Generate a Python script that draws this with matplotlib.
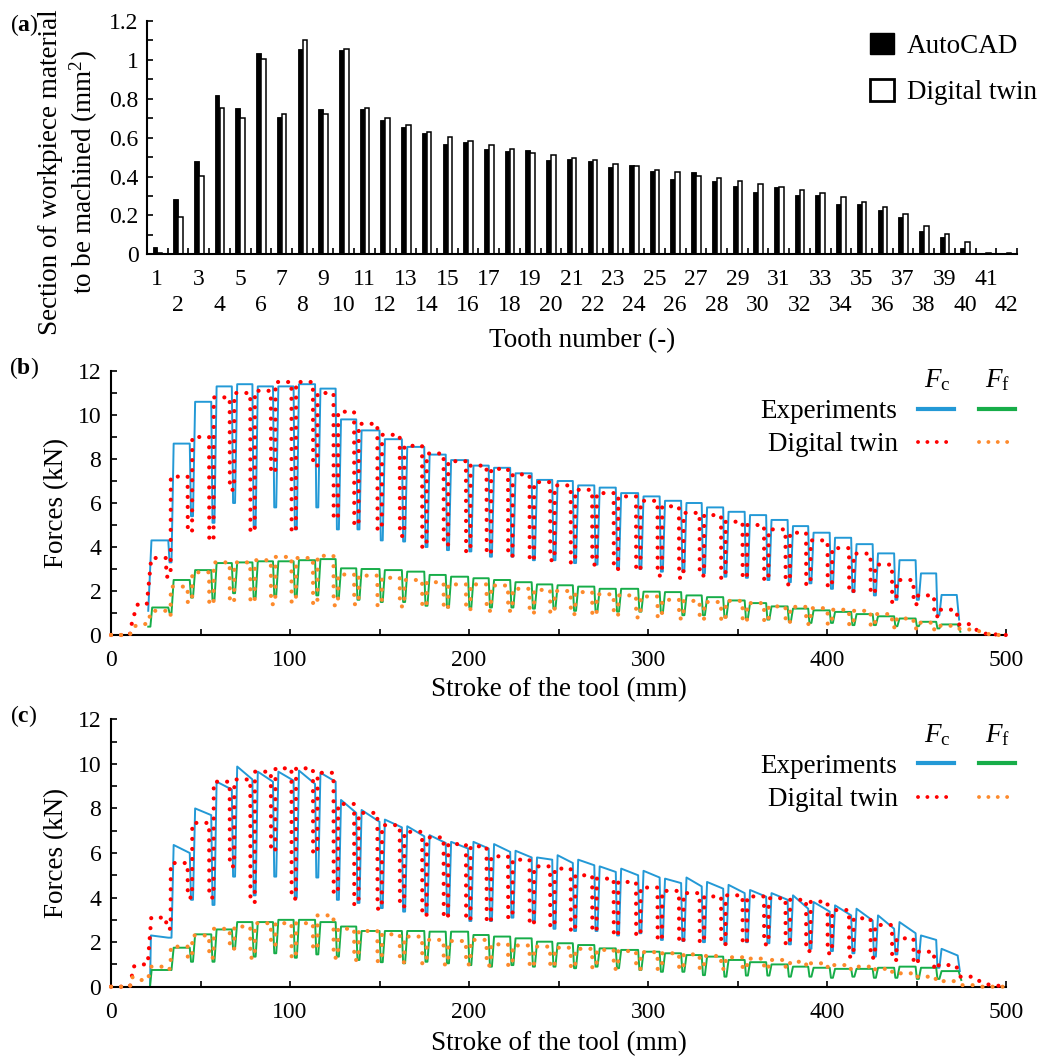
"""Tooth section (a) and broaching forces (b), (c): experiments vs digital twin"""

import numpy as np
import matplotlib
matplotlib.use("Agg")
import matplotlib.pyplot as plt
from matplotlib.lines import Line2D
from matplotlib.patches import Patch
from matplotlib.ticker import MultipleLocator

plt.rcParams["font.family"] = ["Liberation Serif", "DejaVu Serif"]
plt.rcParams["font.size"] = 19.5
plt.rcParams["xtick.labelsize"] = 17
plt.rcParams["ytick.labelsize"] = 17
plt.rcParams["mathtext.fontset"] = "custom"
plt.rcParams["mathtext.rm"] = "Liberation Serif"
plt.rcParams["mathtext.it"] = "Liberation Serif:italic"
plt.rcParams["mathtext.bf"] = "Liberation Serif:bold"

# ═══════════════════════════════════════════
#  data
# ═══════════════════════════════════════════

# (a) section per tooth, mm^2
teeth = np.arange(1, 43)
area_autocad = [0.04, 0.285, 0.478, 0.818, 0.751, 1.034, 0.705, 1.056, 0.749, 1.053,
                0.747, 0.691, 0.653, 0.624, 0.569, 0.579, 0.540, 0.533, 0.537, 0.485,
                0.490, 0.480, 0.449, 0.458, 0.429, 0.387, 0.423, 0.377, 0.350, 0.322,
                0.348, 0.305, 0.305, 0.257, 0.261, 0.228, 0.192, 0.122, 0.089, 0.031,
                0.005, 0.008]
area_twin = [0.005, 0.19, 0.403, 0.754, 0.703, 1.003, 0.723, 1.104, 0.723, 1.054,
             0.751, 0.699, 0.663, 0.631, 0.602, 0.583, 0.561, 0.543, 0.523, 0.513,
             0.497, 0.483, 0.466, 0.454, 0.435, 0.425, 0.405, 0.393, 0.377, 0.362,
             0.348, 0.329, 0.315, 0.293, 0.271, 0.243, 0.207, 0.147, 0.103, 0.062,
             0.005, 0.005]

# (b), (c) stroke position of the dip between two consecutive teeth, mm
dip_x = [33, 45, 57, 68.5, 80, 91.5, 103, 115, 126.5, 138, 151, 163.5, 176, 188,
         200.5, 212, 224, 236, 247.5, 259, 271, 283, 295.5, 307.5, 319.5, 331, 343,
         355, 367, 379, 390.5, 402.5, 414.5, 426.5, 438.5, 450.5, 462]

# (b) plateau level per tooth (38) and dip level between teeth (37), kN
b_fc_exp_top = [4.3, 8.7, 10.6, 11.3, 11.4, 11.3, 11.3, 11.4, 11.2, 9.8,
                9.3, 8.9, 8.55, 8.2, 7.95, 7.7, 7.6, 7.35, 7.05, 7.0,
                6.8, 6.7, 6.45, 6.3, 6.1, 6.0, 5.8, 5.6, 5.45, 5.23,
                4.95, 4.65, 4.42, 4.13, 3.71, 3.4, 2.8, 1.82]
b_fc_exp_dip = [3.3, 5.4, 5.1, 6.0, 4.9, 5.8, 4.8, 5.8, 4.8, 4.8,
                4.3, 4.25, 4.0, 3.86, 3.8, 3.56, 3.56, 3.4, 3.4, 3.27,
                3.2, 3.04, 3.0, 2.88, 2.88, 2.8, 2.65, 2.6, 2.5, 2.4,
                2.35, 2.1, 1.95, 1.8, 1.6, 1.6, 0.9]
b_ff_exp_top = [1.25, 2.5, 2.95, 3.27, 3.3, 3.35, 3.35, 3.4, 3.45, 3.03,
                3.0, 2.95, 2.88, 2.73, 2.65, 2.58, 2.5, 2.4, 2.3, 2.26,
                2.2, 2.1, 2.1, 1.97, 1.95, 1.8, 1.72, 1.57, 1.45, 1.3,
                1.2, 1.12, 1.05, 0.95, 0.85, 0.75, 0.6, 0.48]
b_ff_exp_dip = [1.0, 1.7, 1.6, 1.9, 1.7, 1.8, 1.8, 1.8, 1.7, 1.6,
                1.5, 1.5, 1.33, 1.25, 1.25, 1.25, 1.25, 1.2, 1.2, 1.1,
                1.1, 1.06, 1.06, 1.0, 0.9, 0.9, 0.8, 0.75, 0.7, 0.6,
                0.55, 0.55, 0.45, 0.45, 0.4, 0.4, 0.3]
b_fc_dt_top = [3.5, 7.2, 9.0, 10.8, 11.0, 11.1, 11.5, 11.5, 11.0, 10.15,
               9.6, 9.1, 8.6, 8.25, 7.9, 7.7, 7.55, 7.3, 6.95, 6.8,
               6.6, 6.45, 6.3, 6.1, 5.85, 5.55, 5.45, 5.15, 5.0, 4.8,
               4.65, 4.3, 3.95, 3.7, 3.2, 2.5, 1.8, 1.15]
b_fc_dt_dip = [2.65, 4.7, 4.3, 6.6, 4.7, 7.4, 4.7, 7.7, 5.3, 5.0,
               4.8, 4.5, 4.0, 4.1, 3.8, 3.7, 3.6, 3.4, 3.4, 3.3,
               3.2, 3.0, 2.95, 2.7, 2.6, 2.7, 2.6, 2.6, 2.5, 2.3,
               2.3, 2.2, 1.95, 1.9, 1.5, 1.4, 0.85]
b_ff_dt_top = [1.1, 2.2, 2.85, 3.3, 3.3, 3.4, 3.55, 3.5, 3.6, 2.75,
               2.7, 2.6, 2.5, 2.4, 2.3, 2.3, 2.25, 2.1, 2.05, 2.0,
               1.95, 1.85, 1.8, 1.75, 1.6, 1.55, 1.5, 1.55, 1.45, 1.3,
               1.28, 1.22, 1.15, 1.1, 0.95, 0.75, 0.56, 0.42]
b_ff_dt_dip = [0.9, 1.5, 1.4, 1.5, 1.5, 1.4, 1.5, 1.4, 1.35, 1.4,
               1.35, 1.3, 1.3, 1.2, 1.15, 1.1, 1.1, 1.0, 1.0, 0.95,
               0.9, 0.9, 0.8, 0.8, 0.75, 0.7, 0.65, 0.6, 0.6, 0.55,
               0.5, 0.5, 0.45, 0.4, 0.35, 0.3, 0.25]

# (c) cutting force plateaus droop: level at tooth entry and at tooth exit
c_fc_exp_top = [2.3, 6.36, 8.0, 9.2, 9.88, 9.65, 9.65, 9.7, 9.6, 8.38,
                7.93, 7.5, 7.2, 6.8, 6.5, 6.5, 6.4, 6.1, 5.8, 5.9,
                5.7, 5.4, 5.3, 5.2, 4.85, 4.9, 4.7, 4.57, 4.34, 4.2,
                4.1, 3.8, 3.65, 3.5, 3.2, 2.9, 2.3, 1.7]
c_fc_exp_end = [2.2, 6.0, 7.7, 8.85, 9.3, 9.2, 9.25, 9.1, 9.2, 7.8,
                7.4, 7.15, 6.75, 6.45, 6.2, 6.2, 6.05, 5.8, 5.7, 5.55,
                5.45, 5.15, 5.0, 4.9, 4.65, 4.5, 4.4, 4.2, 4.04, 3.9,
                3.5, 3.37, 3.2, 2.97, 2.6, 2.4, 2.1, 1.4]
c_fc_exp_dip = [2.2, 3.9, 3.67, 4.94, 4.1, 4.94, 4.0, 4.9, 3.9, 3.76,
                3.53, 3.37, 3.3, 3.2, 2.95, 2.95, 3.1, 2.9, 2.6, 2.5,
                2.5, 2.3, 2.4, 2.1, 2.05, 2.0, 1.9, 2.0, 1.95, 1.9,
                1.7, 1.6, 1.5, 1.35, 1.45, 1.2, 0.85]
c_ff_exp_top = [0.75, 1.75, 2.35, 2.57, 2.9, 2.9, 3.0, 3.0, 2.9, 2.7,
                2.5, 2.5, 2.5, 2.47, 2.47, 2.32, 2.25, 2.17, 2.02, 1.95,
                1.87, 1.72, 1.65, 1.57, 1.5, 1.42, 1.35, 1.2, 1.1, 1.0,
                0.9, 0.85, 0.8, 0.8, 0.85, 0.9, 0.85, 0.7]
c_ff_exp_dip = [0.75, 1.12, 1.12, 1.7, 1.35, 1.5, 1.3, 1.45, 1.35, 1.2,
                1.1, 1.05, 1.12, 1.05, 0.97, 0.9, 0.97, 0.9, 0.9, 0.83,
                0.9, 0.83, 0.75, 0.67, 0.67, 0.52, 0.45, 0.5, 0.5, 0.45,
                0.45, 0.4, 0.45, 0.4, 0.4, 0.35, 0.35]
c_fc_dt_top = [3.1, 5.55, 7.35, 9.2, 9.3, 9.65, 9.8, 9.8, 9.6, 8.2,
               7.8, 7.25, 6.95, 6.7, 6.4, 6.3, 5.85, 5.7, 5.4, 5.3,
               5.0, 4.85, 4.7, 4.45, 4.3, 4.2, 4.05, 4.1, 4.05, 3.97,
               3.9, 3.82, 3.44, 3.07, 2.77, 2.17, 1.57, 0.97]
c_fc_dt_dip = [2.6, 4.0, 4.0, 5.4, 3.8, 6.1, 3.95, 6.0, 4.2, 3.7,
               3.5, 3.6, 3.2, 3.1, 3.0, 2.9, 3.1, 2.8, 2.7, 2.5,
               2.5, 2.3, 2.3, 2.1, 2.0, 2.0, 1.9, 1.95, 1.9, 1.9,
               1.6, 1.5, 1.35, 1.3, 1.2, 1.05, 0.8]
c_ff_dt_top = [0.9, 1.8, 2.3, 2.6, 2.7, 2.85, 2.85, 2.85, 3.2, 2.6,
               2.5, 2.35, 2.25, 2.1, 2.05, 2.1, 1.9, 1.85, 1.8, 1.75,
               1.7, 1.65, 1.6, 1.55, 1.5, 1.45, 1.38, 1.32, 1.26, 1.2,
               1.12, 1.05, 0.97, 0.9, 0.8, 0.6, 0.45, 0.25]
c_ff_dt_dip = [0.8, 1.3, 1.3, 1.7, 1.3, 1.87, 1.3, 1.7, 1.3, 1.2,
               1.15, 1.1, 1.05, 1.0, 1.0, 0.95, 0.95, 0.9, 0.9, 0.85,
               0.85, 0.8, 0.8, 0.8, 0.8, 0.8, 0.8, 0.8, 0.8, 0.85,
               0.9, 0.85, 0.8, 0.75, 0.65, 0.45, 0.35]

# lead-in / run-out of each signal (x mm, y kN)
b_fc_exp_pre = ([20.8], [1.1]);               b_fc_exp_post = ([473.8], [0.7])
b_ff_exp_pre = ([20.8, 22.0], [0.38, 0.38]);  b_ff_exp_post = ([474.5], [0.15])
c_fc_exp_pre = ([21.8], [0.05]);              c_fc_exp_post = ([474.2], [0.7])
c_ff_exp_pre = ([21.8], [0.0]);               c_ff_exp_post = ([475.0], [0.3])
b_fc_dt_pre = ([0, 10.5, 12, 15, 20], [0, 0, 0.7, 1.4, 1.4])
b_fc_dt_post = ([474, 480, 484, 489, 500], [0.45, 0.5, 0.2, 0.05, 0])
b_ff_dt_pre = ([0, 10.5, 12.5, 17, 20.5], [0, 0, 0.38, 0.5, 0.5])
b_ff_dt_post = ([474.5, 482, 487, 492, 500], [0.25, 0.25, 0.12, 0, 0])
c_fc_dt_pre = ([0, 10.6, 11.6, 12.5, 16, 20.5], [0, 0, 0.45, 0.9, 1.0, 1.0])
c_fc_dt_post = ([474.5, 482, 486, 490, 500], [0.45, 0.45, 0.2, 0.1, 0])
c_ff_dt_pre = ([0, 10.6, 11.6, 14, 20.5], [0, 0, 0.45, 0.3, 0.3])
c_ff_dt_post = ([475.5, 482, 486, 500], [0.07, 0.07, 0, 0])

C_BLUE = "#2399d6"
C_GREEN = "#17ad49"
C_RED = "#ff0000"
C_ORANGE = "#fd8a2c"

# edge offsets relative to a dip: fall start, dip start, dip end, rise end (mm)
EXP_EDGES = (1.0, 0.3, 0.8, 2.0)
DT_EDGES = (2.2, 2.1, 0.3, 0.4)
DOTS = (0, (0.01, 2.4))


def trace(first_on, last_off, tops, dips, pre, post, edges, tops_end=None):
    if tops_end is None:
        tops_end = tops
    f, d0, d1, r = edges
    xs = list(pre[0]) + [first_on]
    ys = list(pre[1]) + [tops[0]]
    for k, d in enumerate(dip_x):
        xs += [d - f, d - d0, d + d1, d + r]
        ys += [tops_end[k], dips[k], dips[k], tops[k + 1]]
    xs += [last_off] + list(post[0])
    ys += [tops_end[-1]] + list(post[1])
    return np.array(xs), np.array(ys)


def dotted(ax, x, y, color):
    ax.plot(x, y, color=color, lw=3.0, linestyle=DOTS,
            dash_capstyle="round", clip_on=False, zorder=3)


def style_axis(ax):
    for s in ("top", "right"):
        ax.spines[s].set_visible(False)
    for s in ("left", "bottom"):
        ax.spines[s].set_linewidth(1.5)
    ax.tick_params(which="both", direction="in", width=1.2, length=4.5)


W, H = 1040, 1061
fig = plt.figure(figsize=(W / 100, H / 100), dpi=100)


def rect(l, r, top, bottom):
    return [l / W, 1 - bottom / H, (r - l) / W, (bottom - top) / H]


# ═══════════════════════════════════════════
#  (a) bar chart
# ═══════════════════════════════════════════
ax = fig.add_axes(rect(147, 1017, 21, 254.3))
ax.bar(teeth - 0.12, area_autocad, width=0.22, color="black", edgecolor="black", lw=0.6)
ax.bar(teeth + 0.12, area_twin, width=0.22, color="white", edgecolor="black", lw=1.1)
ax.set_xlim(0.5, 42.5)
ax.set_ylim(0, 1.2)
style_axis(ax)
# tick marks between tooth groups, labels staggered on two rows
ax.set_xticks(np.append(teeth[1:] - 0.5, 42.5))
ax.tick_params(axis="x", labelbottom=False)
for sel, pad in ((teeth % 2 == 1, 10.5), (teeth % 2 == 0, 29)):
    sec = ax.secondary_xaxis("bottom")
    sec.set_xticks(teeth[sel], [str(t) for t in teeth[sel]])
    sec.tick_params(length=0, pad=pad)
    sec.spines["bottom"].set_visible(False)
yt = np.arange(0, 1.21, 0.2)
ax.set_yticks(yt, [f"{v:g}" for v in np.round(yt, 1)])
ax.yaxis.set_minor_locator(MultipleLocator(0.1))
ax.tick_params(axis="y", which="both", pad=6)
ax.set_xlabel("Tooth number (-)")
ax.xaxis.set_label_coords(0.5, -0.315)
ax.set_ylabel("Section of workpiece material\nto be machined (mm$^2$)", ma="center")
ax.yaxis.set_label_coords(-0.054, 0.353)
ax.legend([Patch(facecolor="black", edgecolor="black"),
           Patch(facecolor="white", edgecolor="black", lw=2)],
          ["AutoCAD", "Digital twin"], loc="upper right", bbox_to_anchor=(1.038, 1.008),
          frameon=False, borderpad=0, handlelength=0.85, handleheight=0.85,
          handletextpad=0.48, labelspacing=0.75)
fig.text(24 / W, 1 - 25 / H, r"($\mathbf{a}$)", ha="center", va="center", fontsize=17)

# ═══════════════════════════════════════════
#  (b), (c) force signals
# ═══════════════════════════════════════════
panels = [
    ("b", (371, 635), 22.6, 472.5, 0.945, 0.966, -0.158,
     (b_fc_exp_top, b_fc_exp_dip, b_fc_exp_pre, b_fc_exp_post, None),
     (b_ff_exp_top, b_ff_exp_dip, b_ff_exp_pre, b_ff_exp_post),
     (b_fc_dt_top, b_fc_dt_dip, b_fc_dt_pre, b_fc_dt_post),
     (b_ff_dt_top, b_ff_dt_dip, b_ff_dt_pre, b_ff_dt_post)),
    ("c", (719.3, 986.7), 22.3, 473.0, 0.921, 0.941, -0.166,
     (c_fc_exp_top, c_fc_exp_dip, c_fc_exp_pre, c_fc_exp_post, c_fc_exp_end),
     (c_ff_exp_top, c_ff_exp_dip, c_ff_exp_pre, c_ff_exp_post),
     (c_fc_dt_top, c_fc_dt_dip, c_fc_dt_pre, c_fc_dt_post),
     (c_ff_dt_top, c_ff_dt_dip, c_ff_dt_pre, c_ff_dt_post)),
]

for tag, (top, bottom), on, off, leg_y, head_y, xl_y, fc_e, ff_e, fc_d, ff_d in panels:
    ax = fig.add_axes(rect(111, 1006, top, bottom))
    x, y = trace(on, off, fc_e[0], fc_e[1], fc_e[2], fc_e[3], EXP_EDGES, fc_e[4])
    ax.plot(x, y, color=C_BLUE, lw=1.4, zorder=2)
    x, y = trace(on + 0.4, off + 0.5, ff_e[0], ff_e[1], ff_e[2], ff_e[3], EXP_EDGES)
    ax.plot(x, y, color=C_GREEN, lw=1.4, zorder=2)
    x, y = trace(22.5, 472, fc_d[0], fc_d[1], fc_d[2], fc_d[3], DT_EDGES)
    dotted(ax, x, y, C_RED)
    x, y = trace(22.5, 472, ff_d[0], ff_d[1], ff_d[2], ff_d[3], DT_EDGES)
    dotted(ax, x, y, C_ORANGE)

    ax.set_xlim(0, 500)
    ax.set_ylim(0, 12)
    style_axis(ax)
    ax.xaxis.set_major_locator(MultipleLocator(100))
    ax.xaxis.set_minor_locator(MultipleLocator(50))
    ax.yaxis.set_major_locator(MultipleLocator(2))
    ax.yaxis.set_minor_locator(MultipleLocator(1))
    ax.tick_params(axis="x", which="both", pad=11)
    ax.tick_params(axis="y", which="both", pad=7)
    ax.set_xlabel("Stroke of the tool (mm)")
    ax.xaxis.set_label_coords(0.5, xl_y)
    ax.set_ylabel("Forces (kN)")
    ax.yaxis.set_label_coords(-0.047, 0.5)

    h = [Line2D([], [], color=C_BLUE, lw=3),
         Line2D([], [], color=C_RED, lw=2.8, linestyle=DOTS, dash_capstyle="round"),
         Line2D([], [], color=C_GREEN, lw=3),
         Line2D([], [], color=C_ORANGE, lw=2.8, linestyle=DOTS, dash_capstyle="round")]
    ax.legend(h, ["Experiments", "Digital twin", "", ""], ncol=2, markerfirst=False,
              loc="upper right", bbox_to_anchor=(1.025, leg_y),
              frameon=False, borderpad=0, handlelength=1.33, handletextpad=0.74,
              columnspacing=0.19, labelspacing=0.3)
    ax.text(0.923, head_y, r"$F_\mathrm{c}$", transform=ax.transAxes, ha="center", va="center")
    ax.text(0.991, head_y, r"$F_\mathrm{f}$", transform=ax.transAxes, ha="center", va="center")
    fig.text(24 / W, 1 - (top - 3) / H, rf"($\mathbf{{{tag}}}$)", ha="center", va="center",
             fontsize=17)

fig.savefig("out.png", dpi=100)
